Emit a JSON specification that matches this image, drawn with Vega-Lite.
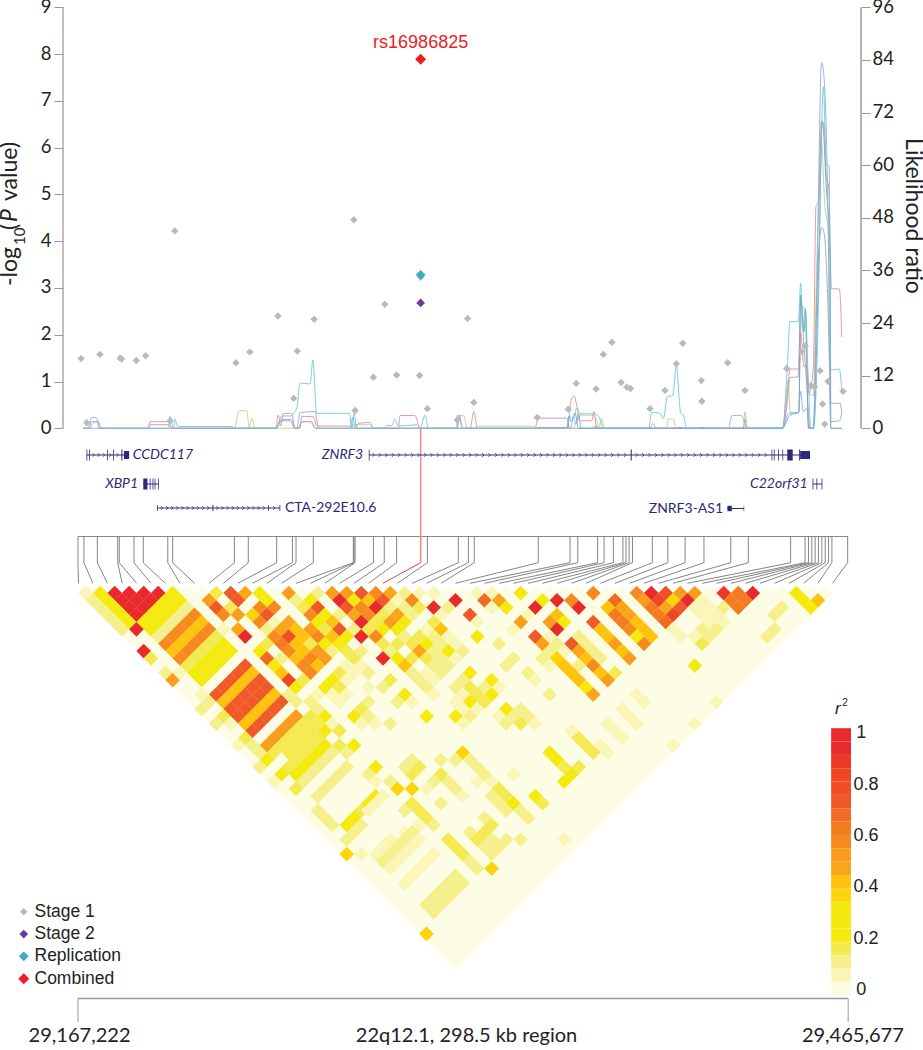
{"$schema":"https://vega.github.io/schema/vega-lite/v6.json","width":923,"height":1050,"padding":0,"autosize":{"type":"none"},"background":"white","config":{"view":{"stroke":null},"font":"Lato"},
"datasets":{
"cells":[
{"m":0.5,"s":1,"r":0.05},{"m":1.5,"s":1,"r":0.3},{"m":2.5,"s":1,"r":0.98},{"m":3.5,"s":1,"r":0.98},{"m":4.5,"s":1,"r":0.98},{"m":5.5,"s":1,"r":0.98},{"m":6.5,"s":1,"r":0.3},{"m":7.5,"s":1,"r":0.02},{"m":8.5,"s":1,"r":0.02},{"m":9.5,"s":1,"r":0.17},{"m":10.5,"s":1,"r":0.72},{"m":11.5,"s":1,"r":0.48},{"m":12.5,"s":1,"r":0.3},{"m":13.5,"s":1,"r":0.03},{"m":14.5,"s":1,"r":0.5},{"m":15.5,"s":1,"r":0.03},{"m":16.5,"s":1,"r":0.12},{"m":17.5,"s":1,"r":0.52},{"m":18.5,"s":1,"r":0.52},{"m":19.5,"s":1,"r":0.72},{"m":20.5,"s":1,"r":0.55},{"m":21.5,"s":1,"r":0.45},{"m":22.5,"s":1,"r":0.12},{"m":23.5,"s":1,"r":0.09},{"m":24.5,"s":1,"r":0.09},{"m":25.5,"s":1,"r":0.02},{"m":26.5,"s":1,"r":0.02},{"m":27.5,"s":1,"r":0.08},{"m":28.5,"s":1,"r":0.08},{"m":29.5,"s":1,"r":0.02},{"m":30.5,"s":1,"r":0.28},{"m":31.5,"s":1,"r":0.02},{"m":32.5,"s":1,"r":0.02},{"m":33.5,"s":1,"r":0.02},{"m":34.5,"s":1,"r":0.02},{"m":35.5,"s":1,"r":0.55},{"m":36.5,"s":1,"r":0.02},{"m":37.5,"s":1,"r":0.02},{"m":38.5,"s":1,"r":0.55},{"m":39.5,"s":1,"r":0.98},{"m":40.5,"s":1,"r":0.78},{"m":41.5,"s":1,"r":0.52},{"m":42.5,"s":1,"r":0.5},{"m":43.5,"s":1,"r":0.02},{"m":44.5,"s":1,"r":0.85},{"m":45.5,"s":1,"r":0.62},{"m":46.5,"s":1,"r":0.98},{"m":47.5,"s":1,"r":0.02},{"m":48.5,"s":1,"r":0.02},{"m":49.5,"s":1,"r":0.3},{"m":50.5,"s":1,"r":0.02},{"m":51.5,"s":1,"r":0.02},
{"m":3,"s":2,"r":0.98},{"m":4,"s":2,"r":0.98},{"m":5,"s":2,"r":0.98},{"m":3.5,"s":3,"r":0.98},{"m":4.5,"s":3,"r":0.98},{"m":4,"s":4,"r":0.98},
{"m":2,"s":2,"r":0.3},{"m":2.5,"s":3,"r":0.3},{"m":3,"s":4,"r":0.3},{"m":3.5,"s":5,"r":0.3},
{"m":1,"s":2,"r":0.12},{"m":1.5,"s":3,"r":0.12},{"m":2,"s":4,"r":0.12},{"m":2.5,"s":5,"r":0.12},{"m":3,"s":6,"r":0.12},
{"m":6,"s":2,"r":0.3},{"m":5.5,"s":3,"r":0.3},{"m":5,"s":4,"r":0.3},{"m":4.5,"s":5,"r":0.3},
{"m":7,"s":2,"r":0.3},{"m":6.5,"s":3,"r":0.3},{"m":6,"s":4,"r":0.3},{"m":5.5,"s":5,"r":0.3},{"m":5,"s":6,"r":0.3},
{"m":7.5,"s":3,"r":0.13},{"m":7,"s":4,"r":0.13},{"m":6.5,"s":5,"r":0.13},{"m":6,"s":6,"r":0.13},{"m":5.5,"s":7,"r":0.13},
{"m":8,"s":4,"r":0.55},{"m":7.5,"s":5,"r":0.55},{"m":7,"s":6,"r":0.55},{"m":6.5,"s":7,"r":0.55},{"m":6,"s":8,"r":0.55},
{"m":8.5,"s":5,"r":0.42},{"m":8,"s":6,"r":0.42},{"m":7.5,"s":7,"r":0.42},{"m":7,"s":8,"r":0.42},{"m":6.5,"s":9,"r":0.42},
{"m":9,"s":6,"r":0.55},{"m":8.5,"s":7,"r":0.55},{"m":8,"s":8,"r":0.55},{"m":7.5,"s":9,"r":0.55},{"m":7,"s":10,"r":0.55},
{"m":9.5,"s":7,"r":0.16},{"m":9,"s":8,"r":0.16},{"m":8.5,"s":9,"r":0.16},{"m":8,"s":10,"r":0.16},{"m":7.5,"s":11,"r":0.16},
{"m":10,"s":8,"r":0.25},{"m":9.5,"s":9,"r":0.25},{"m":9,"s":10,"r":0.25},{"m":8.5,"s":11,"r":0.25},{"m":8,"s":12,"r":0.25},
{"m":10.5,"s":9,"r":0.3},{"m":10,"s":10,"r":0.3},{"m":9.5,"s":11,"r":0.3},{"m":9,"s":12,"r":0.3},{"m":8.5,"s":13,"r":0.3},
{"m":11.5,"s":11,"r":0.72},{"m":11,"s":12,"r":0.72},{"m":10.5,"s":13,"r":0.72},{"m":10,"s":14,"r":0.72},{"m":9.5,"s":15,"r":0.72},
{"m":12,"s":12,"r":0.42},{"m":11.5,"s":13,"r":0.42},{"m":11,"s":14,"r":0.42},{"m":10.5,"s":15,"r":0.42},{"m":10,"s":16,"r":0.42},
{"m":12.5,"s":13,"r":0.72},{"m":12,"s":14,"r":0.72},{"m":11.5,"s":15,"r":0.72},{"m":11,"s":16,"r":0.72},{"m":10.5,"s":17,"r":0.72},
{"m":13,"s":14,"r":0.72},{"m":12.5,"s":15,"r":0.72},{"m":12,"s":16,"r":0.72},{"m":11.5,"s":17,"r":0.72},{"m":11,"s":18,"r":0.72},
{"m":13.5,"s":15,"r":0.42},{"m":13,"s":16,"r":0.42},{"m":12.5,"s":17,"r":0.42},{"m":12,"s":18,"r":0.42},{"m":11.5,"s":19,"r":0.42},
{"m":14,"s":16,"r":0.72},{"m":13.5,"s":17,"r":0.72},{"m":13,"s":18,"r":0.72},{"m":12.5,"s":19,"r":0.72},{"m":12,"s":20,"r":0.72},
{"m":15,"s":18,"r":0.52},{"m":14.5,"s":19,"r":0.52},{"m":14,"s":20,"r":0.52},{"m":13.5,"s":21,"r":0.52},{"m":13,"s":22,"r":0.52},
{"m":15.5,"s":19,"r":0.17},{"m":15,"s":20,"r":0.17},{"m":14.5,"s":21,"r":0.17},{"m":14,"s":22,"r":0.17},{"m":13.5,"s":23,"r":0.17},
{"m":16.5,"s":21,"r":0.19},{"m":16,"s":22,"r":0.19},{"m":15.5,"s":23,"r":0.19},{"m":15,"s":24,"r":0.19},{"m":14.5,"s":25,"r":0.19},
{"m":17,"s":22,"r":0.3},{"m":16.5,"s":23,"r":0.3},{"m":16,"s":24,"r":0.3},{"m":15.5,"s":25,"r":0.3},{"m":15,"s":26,"r":0.3},
{"m":17.5,"s":23,"r":0.13},{"m":17,"s":24,"r":0.13},{"m":16.5,"s":25,"r":0.13},{"m":16,"s":26,"r":0.13},{"m":15.5,"s":27,"r":0.13},
{"m":18.5,"s":25,"r":0.13},{"m":18,"s":26,"r":0.13},{"m":17.5,"s":27,"r":0.13},{"m":17,"s":28,"r":0.13},{"m":16.5,"s":29,"r":0.13},
{"m":4,"s":6,"r":0.98},{"m":4.5,"s":9,"r":0.98},{"m":5,"s":10,"r":0.17},{"m":6,"s":12,"r":0.13},{"m":6.5,"s":13,"r":0.5},{"m":7,"s":12,"r":0.09},{"m":8.5,"s":15,"r":0.08},{"m":8.5,"s":17,"r":0.13},{"m":9,"s":16,"r":0.12},{"m":10,"s":18,"r":0.17},{"m":9.5,"s":19,"r":0.12},{"m":10.5,"s":19,"r":0.09},{"m":11.5,"s":21,"r":0.17},{"m":11,"s":22,"r":0.09},{"m":12,"s":22,"r":0.13},{"m":12.5,"s":23,"r":0.13},{"m":13,"s":24,"r":0.3},{"m":14,"s":26,"r":0.3},{"m":15,"s":28,"r":0.17},{"m":12.5,"s":25,"r":0.12},{"m":13.5,"s":27,"r":0.09},
{"m":9,"s":2,"r":0.5},{"m":11,"s":2,"r":0.72},{"m":13,"s":2,"r":0.28},{"m":15,"s":2,"r":0.12},{"m":16,"s":2,"r":0.3},{"m":18,"s":2,"r":0.95},{"m":19,"s":2,"r":0.3},{"m":20,"s":2,"r":0.42},{"m":21,"s":2,"r":0.72},{"m":22,"s":2,"r":0.08},{"m":23,"s":2,"r":0.55},{"m":26,"s":2,"r":0.98},{"m":28,"s":2,"r":0.68},{"m":29,"s":2,"r":0.45},{"m":32,"s":2,"r":0.3},{"m":33,"s":2,"r":0.98},{"m":34,"s":2,"r":0.55},{"m":37,"s":2,"r":0.68},{"m":39,"s":2,"r":0.5},{"m":40,"s":2,"r":0.8},{"m":41,"s":2,"r":0.35},{"m":42,"s":2,"r":0.95},{"m":43,"s":2,"r":0.09},{"m":45,"s":2,"r":0.62},{"m":46,"s":2,"r":0.62},{"m":50,"s":2,"r":0.3},{"m":51,"s":2,"r":0.42},
{"m":9.5,"s":3,"r":0.72},{"m":10.5,"s":3,"r":0.17},{"m":12.5,"s":3,"r":0.55},{"m":13.5,"s":3,"r":0.55},{"m":15.5,"s":3,"r":0.19},{"m":16.5,"s":3,"r":0.7},{"m":18.5,"s":3,"r":0.7},{"m":19.5,"s":3,"r":0.55},{"m":20.5,"s":3,"r":0.95},{"m":21.5,"s":3,"r":0.13},{"m":22.5,"s":3,"r":0.13},{"m":23.5,"s":3,"r":0.17},{"m":24.5,"s":3,"r":0.98},{"m":25.5,"s":3,"r":0.12},{"m":28.5,"s":3,"r":0.09},{"m":29.5,"s":3,"r":0.3},{"m":31.5,"s":3,"r":0.98},{"m":34.5,"s":3,"r":0.98},{"m":36.5,"s":3,"r":0.42},{"m":37.5,"s":3,"r":0.45},{"m":39.5,"s":3,"r":0.6},{"m":40.5,"s":3,"r":0.45},{"m":41.5,"s":3,"r":0.72},{"m":42.5,"s":3,"r":0.09},{"m":43.5,"s":3,"r":0.09},{"m":44.5,"s":3,"r":0.12},{"m":45.5,"s":3,"r":0.62},{"m":48.5,"s":3,"r":0.12},{"m":50.5,"s":3,"r":0.3},
{"m":10,"s":4,"r":0.55},{"m":11,"s":4,"r":0.52},{"m":12,"s":4,"r":0.38},{"m":13,"s":4,"r":0.7},{"m":16,"s":4,"r":0.55},{"m":17,"s":4,"r":0.3},{"m":18,"s":4,"r":0.12},{"m":19,"s":4,"r":0.45},{"m":20,"s":4,"r":0.55},{"m":21,"s":4,"r":0.17},{"m":22,"s":4,"r":0.45},{"m":23,"s":4,"r":0.13},{"m":25,"s":4,"r":0.09},{"m":27,"s":4,"r":0.7},{"m":31,"s":4,"r":0.09},{"m":33,"s":4,"r":0.42},{"m":37,"s":4,"r":0.6},{"m":38,"s":4,"r":0.45},{"m":40,"s":4,"r":0.6},{"m":41,"s":4,"r":0.8},{"m":43,"s":4,"r":0.09},{"m":44,"s":4,"r":0.09},{"m":48,"s":4,"r":0.12},
{"m":12.5,"s":5,"r":0.55},{"m":13.5,"s":5,"r":0.09},{"m":14.5,"s":5,"r":0.45},{"m":16.5,"s":5,"r":0.3},{"m":17.5,"s":5,"r":0.42},{"m":19.5,"s":5,"r":0.98},{"m":20.5,"s":5,"r":0.17},{"m":21.5,"s":5,"r":0.5},{"m":22.5,"s":5,"r":0.3},{"m":24.5,"s":5,"r":0.17},{"m":27.5,"s":5,"r":0.08},{"m":30.5,"s":5,"r":0.5},{"m":32.5,"s":5,"r":0.52},{"m":33.5,"s":5,"r":0.32},{"m":35.5,"s":5,"r":0.7},{"m":37.5,"s":5,"r":0.62},{"m":38.5,"s":5,"r":0.42},{"m":40.5,"s":5,"r":0.65},{"m":43.5,"s":5,"r":0.09},{"m":44.5,"s":5,"r":0.09},
{"m":10,"s":6,"r":0.09},{"m":11,"s":6,"r":0.48},{"m":13,"s":6,"r":0.13},{"m":14,"s":6,"r":0.45},{"m":15,"s":6,"r":0.4},{"m":16,"s":6,"r":0.5},{"m":17,"s":6,"r":0.17},{"m":18,"s":6,"r":0.72},{"m":19,"s":6,"r":0.13},{"m":20,"s":6,"r":0.17},{"m":21,"s":6,"r":0.3},{"m":22,"s":6,"r":0.3},{"m":24,"s":6,"r":0.09},{"m":25,"s":6,"r":0.42},{"m":30,"s":6,"r":0.09},{"m":33,"s":6,"r":0.98},{"m":36,"s":6,"r":0.42},{"m":38,"s":6,"r":0.55},{"m":39,"s":6,"r":0.42},{"m":41,"s":6,"r":0.09},{"m":43,"s":6,"r":0.12},{"m":44,"s":6,"r":0.12},{"m":48,"s":6,"r":0.12},
{"m":11.5,"s":7,"r":0.98},{"m":13.5,"s":7,"r":0.55},{"m":14.5,"s":7,"r":0.75},{"m":15.5,"s":7,"r":0.42},{"m":16.5,"s":7,"r":0.55},{"m":17.5,"s":7,"r":0.42},{"m":18.5,"s":7,"r":0.3},{"m":19.5,"s":7,"r":0.98},{"m":20.5,"s":7,"r":0.55},{"m":22.5,"s":7,"r":0.12},{"m":23.5,"s":7,"r":0.19},{"m":24.5,"s":7,"r":0.13},{"m":25.5,"s":7,"r":0.09},{"m":27.5,"s":7,"r":0.3},{"m":31.5,"s":7,"r":0.72},{"m":32.5,"s":7,"r":0.09},{"m":34.5,"s":7,"r":0.12},{"m":36.5,"s":7,"r":0.42},{"m":38.5,"s":7,"r":0.3},{"m":39.5,"s":7,"r":0.42},{"m":41.5,"s":7,"r":0.09},{"m":42.5,"s":7,"r":0.09},{"m":43.5,"s":7,"r":0.12},{"m":47.5,"s":7,"r":0.12},
{"m":13,"s":8,"r":0.17},{"m":14,"s":8,"r":0.6},{"m":15,"s":8,"r":0.42},{"m":16,"s":8,"r":0.19},{"m":17,"s":8,"r":0.3},{"m":18,"s":8,"r":0.3},{"m":21,"s":8,"r":0.19},{"m":22,"s":8,"r":0.17},{"m":23,"s":8,"r":0.17},{"m":24,"s":8,"r":0.3},{"m":25,"s":8,"r":0.12},{"m":26,"s":8,"r":0.09},{"m":29,"s":8,"r":0.12},{"m":32,"s":8,"r":0.52},{"m":33,"s":8,"r":0.12},{"m":34,"s":8,"r":0.7},{"m":35,"s":8,"r":0.13},{"m":37,"s":8,"r":0.5},{"m":39,"s":8,"r":0.55},{"m":43,"s":8,"r":0.17},
{"m":12.5,"s":9,"r":0.3},{"m":14.5,"s":9,"r":0.55},{"m":15.5,"s":9,"r":0.42},{"m":16.5,"s":9,"r":0.52},{"m":17.5,"s":9,"r":0.13},{"m":18.5,"s":9,"r":0.17},{"m":19.5,"s":9,"r":0.13},{"m":21.5,"s":9,"r":0.13},{"m":23.5,"s":9,"r":0.45},{"m":24.5,"s":9,"r":0.13},{"m":25.5,"s":9,"r":0.33},{"m":26.5,"s":9,"r":0.12},{"m":32.5,"s":9,"r":0.12},{"m":33.5,"s":9,"r":0.09},{"m":34.5,"s":9,"r":0.45},{"m":35.5,"s":9,"r":0.13},{"m":37.5,"s":9,"r":0.42},
{"m":13,"s":10,"r":0.65},{"m":14,"s":10,"r":0.13},{"m":15,"s":10,"r":0.42},{"m":16,"s":10,"r":0.55},{"m":17,"s":10,"r":0.5},{"m":19,"s":10,"r":0.17},{"m":21,"s":10,"r":0.98},{"m":22,"s":10,"r":0.3},{"m":23,"s":10,"r":0.17},{"m":24,"s":10,"r":0.17},{"m":25,"s":10,"r":0.13},{"m":26,"s":10,"r":0.09},{"m":30,"s":10,"r":0.12},{"m":32,"s":10,"r":0.12},{"m":33,"s":10,"r":0.35},{"m":35,"s":10,"r":0.42},{"m":36,"s":10,"r":0.12},{"m":38,"s":10,"r":0.5},
{"m":13.5,"s":11,"r":0.3},{"m":15.5,"s":11,"r":0.55},{"m":16.5,"s":11,"r":0.4},{"m":18.5,"s":11,"r":0.08},{"m":19.5,"s":11,"r":0.09},{"m":22.5,"s":11,"r":0.42},{"m":24.5,"s":11,"r":0.12},{"m":25.5,"s":11,"r":0.13},{"m":29.5,"s":11,"r":0.13},{"m":32.5,"s":11,"r":0.09},{"m":33.5,"s":11,"r":0.42},{"m":34.5,"s":11,"r":0.12},{"m":35.5,"s":11,"r":0.55},{"m":42.5,"s":11,"r":0.33},
{"m":14,"s":12,"r":0.42},{"m":16,"s":12,"r":0.55},{"m":18,"s":12,"r":0.19},{"m":19,"s":12,"r":0.09},{"m":20,"s":12,"r":0.12},{"m":23,"s":12,"r":0.12},{"m":24,"s":12,"r":0.09},{"m":25,"s":12,"r":0.12},{"m":27,"s":12,"r":0.3},{"m":31,"s":12,"r":0.12},{"m":34,"s":12,"r":0.42},{"m":36,"s":12,"r":0.42},{"m":37,"s":12,"r":0.17},
{"m":14.5,"s":13,"r":0.8},{"m":15.5,"s":13,"r":0.17},{"m":17.5,"s":13,"r":0.28},{"m":18.5,"s":13,"r":0.09},{"m":21.5,"s":13,"r":0.18},{"m":23.5,"s":13,"r":0.12},{"m":24.5,"s":13,"r":0.09},{"m":26.5,"s":13,"r":0.12},{"m":28.5,"s":13,"r":0.3},{"m":31.5,"s":13,"r":0.09},{"m":34.5,"s":13,"r":0.42},{"m":36.5,"s":13,"r":0.5},
{"m":15,"s":14,"r":0.3},{"m":17,"s":14,"r":0.3},{"m":18,"s":14,"r":0.19},{"m":20,"s":14,"r":0.09},{"m":21,"s":14,"r":0.12},{"m":24,"s":14,"r":0.12},{"m":26,"s":14,"r":0.12},{"m":27,"s":14,"r":0.17},{"m":28,"s":14,"r":0.13},{"m":29,"s":14,"r":0.09},{"m":35,"s":14,"r":0.3},
{"m":14.5,"s":15,"r":0.13},{"m":16.5,"s":15,"r":0.09},{"m":17.5,"s":15,"r":0.09},{"m":18.5,"s":15,"r":0.09},{"m":22.5,"s":15,"r":0.3},{"m":24.5,"s":15,"r":0.09},{"m":26.5,"s":15,"r":0.09},{"m":27.5,"s":15,"r":0.19},{"m":28.5,"s":15,"r":0.3},{"m":32.5,"s":15,"r":0.12},{"m":35.5,"s":15,"r":0.45},{"m":38.5,"s":15,"r":0.08},
{"m":15,"s":16,"r":0.13},{"m":16,"s":16,"r":0.12},{"m":18,"s":16,"r":0.08},{"m":20,"s":16,"r":0.12},{"m":22,"s":16,"r":0.12},{"m":23,"s":16,"r":0.09},{"m":26,"s":16,"r":0.09},{"m":27,"s":16,"r":0.3},{"m":28,"s":16,"r":0.17},{"m":39,"s":16,"r":0.08},{"m":44,"s":16,"r":0.09},
{"m":16.5,"s":17,"r":0.12},{"m":19.5,"s":17,"r":0.17},{"m":26.5,"s":17,"r":0.09},{"m":27.5,"s":17,"r":0.09},{"m":29.5,"s":17,"r":0.3},{"m":30.5,"s":17,"r":0.12},{"m":37.5,"s":17,"r":0.08},
{"m":16,"s":18,"r":0.19},{"m":17,"s":18,"r":0.3},{"m":19,"s":18,"r":0.3},{"m":20,"s":18,"r":0.12},{"m":24,"s":18,"r":0.3},{"m":26,"s":18,"r":0.3},{"m":27,"s":18,"r":0.12},{"m":29,"s":18,"r":0.09},{"m":30,"s":18,"r":0.12},{"m":31,"s":18,"r":0.12},{"m":38,"s":18,"r":0.08},
{"m":16.5,"s":19,"r":0.18},{"m":17.5,"s":19,"r":0.09},{"m":19.5,"s":19,"r":0.09},{"m":20.5,"s":19,"r":0.09},{"m":21.5,"s":19,"r":0.12},{"m":26.5,"s":19,"r":0.09},{"m":29.5,"s":19,"r":0.12},{"m":30.5,"s":19,"r":0.17},{"m":31.5,"s":19,"r":0.09},{"m":36.5,"s":19,"r":0.08},{"m":38.5,"s":19,"r":0.08},{"m":42.5,"s":19,"r":0.09},
{"m":16,"s":20,"r":0.18},{"m":17,"s":20,"r":0.3},{"m":18,"s":20,"r":0.19},{"m":34,"s":20,"r":0.08},{"m":37,"s":20,"r":0.08},
{"m":15.5,"s":21,"r":0.18},{"m":34.5,"s":21,"r":0.18},{"m":37.5,"s":21,"r":0.08},
{"m":15,"s":22,"r":0.18},{"m":18,"s":22,"r":0.17},{"m":19,"s":22,"r":0.3},{"m":35,"s":22,"r":0.18},{"m":36,"s":22,"r":0.09},{"m":41,"s":22,"r":0.09},
{"m":14.5,"s":23,"r":0.17},{"m":18.5,"s":23,"r":0.12},{"m":26.5,"s":23,"r":0.35},{"m":32.5,"s":23,"r":0.3},{"m":35.5,"s":23,"r":0.18},{"m":36.5,"s":23,"r":0.09},
{"m":23,"s":24,"r":0.13},{"m":25,"s":24,"r":0.13},{"m":26,"s":24,"r":0.12},{"m":27,"s":24,"r":0.13},{"m":33,"s":24,"r":0.3},
{"m":20.5,"s":25,"r":0.33},{"m":22.5,"s":25,"r":0.12},{"m":23.5,"s":25,"r":0.17},{"m":27.5,"s":25,"r":0.13},{"m":33.5,"s":25,"r":0.19},{"m":34.5,"s":25,"r":0.17},
{"m":20,"s":26,"r":0.12},{"m":23,"s":26,"r":0.19},{"m":25,"s":26,"r":0.17},{"m":28,"s":26,"r":0.12},{"m":30,"s":26,"r":0.09},{"m":34,"s":26,"r":0.3},
{"m":20.5,"s":27,"r":0.09},{"m":21.5,"s":27,"r":0.13},{"m":24.5,"s":27,"r":0.12},{"m":25.5,"s":27,"r":0.12},{"m":27.5,"s":27,"r":0.09},{"m":28.5,"s":27,"r":0.09},{"m":33.5,"s":27,"r":0.3},
{"m":22,"s":28,"r":0.38},{"m":23,"s":28,"r":0.38},{"m":24,"s":28,"r":0.09},{"m":26,"s":28,"r":0.12},{"m":29,"s":28,"r":0.17},
{"m":20.5,"s":29,"r":0.33},{"m":21,"s":29,"r":0.09},{"m":26.5,"s":29,"r":0.09},{"m":28.5,"s":29,"r":0.13},{"m":29.5,"s":29,"r":0.17},{"m":31.5,"s":29,"r":0.3},
{"m":20,"s":30,"r":0.3},{"m":20.5,"s":30,"r":0.09},{"m":23,"s":30,"r":0.19},{"m":25,"s":30,"r":0.12},{"m":29,"s":30,"r":0.13},{"m":30,"s":30,"r":0.3},{"m":32,"s":30,"r":0.19},
{"m":16.5,"s":31,"r":0.12},{"m":19.5,"s":31,"r":0.19},{"m":20,"s":31,"r":0.09},{"m":22.5,"s":31,"r":0.12},{"m":23.5,"s":31,"r":0.17},{"m":29.5,"s":31,"r":0.12},{"m":30.5,"s":31,"r":0.13},
{"m":17,"s":32,"r":0.12},{"m":19,"s":32,"r":0.3},{"m":24,"s":32,"r":0.17},{"m":28,"s":32,"r":0.13},{"m":31,"s":32,"r":0.12},
{"m":17.5,"s":33,"r":0.12},{"m":18.5,"s":33,"r":0.33},{"m":19.5,"s":33,"r":0.12},{"m":23.5,"s":33,"r":0.08},{"m":24.5,"s":33,"r":0.12},{"m":28.5,"s":33,"r":0.19},
{"m":19,"s":34,"r":0.12},{"m":22.5,"s":34,"r":0.08},{"m":23,"s":34,"r":0.13},{"m":27,"s":34,"r":0.13},{"m":28,"s":34,"r":0.17},
{"m":18.5,"s":35,"r":0.12},{"m":21.5,"s":35,"r":0.08},{"m":22.5,"s":35,"r":0.13},{"m":23.5,"s":35,"r":0.09},{"m":25.5,"s":35,"r":0.17},{"m":27.5,"s":35,"r":0.18},{"m":28.5,"s":35,"r":0.13},{"m":29.5,"s":35,"r":0.12},{"m":30.5,"s":35,"r":0.13},{"m":33.5,"s":35,"r":0.08},
{"m":21,"s":36,"r":0.08},{"m":22,"s":36,"r":0.13},{"m":23,"s":36,"r":0.09},{"m":26,"s":36,"r":0.18},{"m":28,"s":36,"r":0.13},{"m":29,"s":36,"r":0.12},
{"m":18.5,"s":37,"r":0.35},{"m":19.5,"s":37,"r":0.09},{"m":20.5,"s":37,"r":0.08},{"m":21.5,"s":37,"r":0.13},{"m":22.5,"s":37,"r":0.09},{"m":24.5,"s":37,"r":0.09},{"m":26.5,"s":37,"r":0.17},{"m":28.5,"s":37,"r":0.13},
{"m":21,"s":38,"r":0.13},{"m":22,"s":38,"r":0.09},{"m":24,"s":38,"r":0.09},{"m":27,"s":38,"r":0.13},
{"m":21.5,"s":39,"r":0.09},{"m":23.5,"s":39,"r":0.09},{"m":27.5,"s":39,"r":0.13},{"m":28.5,"s":39,"r":0.35},
{"m":23,"s":40,"r":0.09},{"m":26,"s":40,"r":0.13},
{"m":22.5,"s":41,"r":0.09},{"m":25.5,"s":41,"r":0.13},{"m":26.5,"s":41,"r":0.13},
{"m":25,"s":42,"r":0.13},{"m":26,"s":42,"r":0.13},{"m":24.5,"s":43,"r":0.13},{"m":25.5,"s":43,"r":0.13},{"m":24,"s":44,"r":0.13},{"m":25,"s":44,"r":0.13},{"m":24.5,"s":45,"r":0.13},
{"m":24,"s":48,"r":0.35}
],
"snps":[
{"x":1.2,"p":1.49,"stage":"Stage 1"},{"x":3.4,"p":0.12,"stage":"Stage 1"},{"x":8.5,"p":1.58,"stage":"Stage 1"},{"x":16.3,"p":1.5,"stage":"Stage 1"},{"x":16.9,"p":1.48,"stage":"Stage 1"},{"x":22.6,"p":1.45,"stage":"Stage 1"},{"x":26.2,"p":1.55,"stage":"Stage 1"},{"x":35.7,"p":0.16,"stage":"Stage 1"},{"x":37.5,"p":4.22,"stage":"Stage 1"},{"x":61.2,"p":1.4,"stage":"Stage 1"},{"x":66.6,"p":1.63,"stage":"Stage 1"},{"x":77.5,"p":2.4,"stage":"Stage 1"},{"x":83.6,"p":0.64,"stage":"Stage 1"},{"x":85,"p":1.65,"stage":"Stage 1"},{"x":91.5,"p":2.33,"stage":"Stage 1"},{"x":106.9,"p":4.46,"stage":"Stage 1"},{"x":107.4,"p":0.38,"stage":"Stage 1"},{"x":114.5,"p":1.09,"stage":"Stage 1"},{"x":118.9,"p":2.65,"stage":"Stage 1"},{"x":123.5,"p":1.14,"stage":"Stage 1"},{"x":132.4,"p":1.13,"stage":"Stage 1"},{"x":132.8,"p":3.23,"stage":"Stage 1"},{"x":135.4,"p":0.42,"stage":"Stage 1"},{"x":147,"p":0.18,"stage":"Stage 1"},{"x":151,"p":2.35,"stage":"Stage 1"},{"x":153.4,"p":0.55,"stage":"Stage 1"},{"x":178,"p":0.23,"stage":"Stage 1"},{"x":190,"p":0.41,"stage":"Stage 1"},{"x":193.1,"p":0.96,"stage":"Stage 1"},{"x":200.8,"p":0.84,"stage":"Stage 1"},{"x":203.6,"p":1.58,"stage":"Stage 1"},{"x":206.9,"p":1.84,"stage":"Stage 1"},{"x":210.5,"p":0.98,"stage":"Stage 1"},{"x":212.7,"p":0.88,"stage":"Stage 1"},{"x":214.1,"p":0.85,"stage":"Stage 1"},{"x":221.7,"p":0.42,"stage":"Stage 1"},{"x":227.5,"p":0.81,"stage":"Stage 1"},{"x":231.9,"p":1.38,"stage":"Stage 1"},{"x":234.4,"p":1.82,"stage":"Stage 1"},{"x":241.6,"p":1.02,"stage":"Stage 1"},{"x":241.8,"p":0.58,"stage":"Stage 1"},{"x":251.8,"p":1.4,"stage":"Stage 1"},{"x":258.5,"p":0.81,"stage":"Stage 1"},{"x":274.7,"p":1.28,"stage":"Stage 1"},{"x":280.4,"p":1.64,"stage":"Stage 1"},{"x":281.9,"p":1.76,"stage":"Stage 1"},{"x":284,"p":0.91,"stage":"Stage 1"},{"x":285.5,"p":0.89,"stage":"Stage 1"},{"x":287.6,"p":1.23,"stage":"Stage 1"},{"x":288.6,"p":0.52,"stage":"Stage 1"},{"x":289.4,"p":0.09,"stage":"Stage 1"},{"x":290.7,"p":1,"stage":"Stage 1"},{"x":296.5,"p":0.79,"stage":"Stage 1"},
{"x":132.8,"p":2.68,"stage":"Stage 2"},{"x":132.8,"p":3.28,"stage":"Replication"},{"x":132.8,"p":7.89,"stage":"Combined"}
],
"lr":[
{"g":"P","x":2.1,"y":0},{"g":"P","x":27.3,"y":0},{"g":"P","x":28,"y":0.8},{"g":"P","x":35,"y":0.8},{"g":"P","x":36.3,"y":0},{"g":"P","x":76.4,"y":0},{"g":"P","x":78.3,"y":1.7},{"g":"P","x":82.2,"y":1.7},{"g":"P","x":84.1,"y":0},{"g":"P","x":84.8,"y":0},{"g":"P","x":86.1,"y":3.6},{"g":"P","x":91.9,"y":3.8},{"g":"P","x":93.2,"y":0},{"g":"P","x":177.1,"y":0},{"g":"P","x":178.4,"y":2.3},{"g":"P","x":189.4,"y":2.3},{"g":"P","x":190.7,"y":0},{"g":"P","x":199,"y":0},{"g":"P","x":200,"y":0.4},{"g":"P","x":203,"y":0},{"g":"P","x":232,"y":0},{"g":"P","x":233,"y":0.2},{"g":"P","x":235,"y":0},{"g":"P","x":273.1,"y":0},{"g":"P","x":274.7,"y":5},{"g":"P","x":276,"y":11.6},{"g":"P","x":279.2,"y":11.7},{"g":"P","x":280.1,"y":30},{"g":"P","x":281.1,"y":21},{"g":"P","x":282.4,"y":10.3},{"g":"P","x":283.7,"y":0},{"g":"P","x":285,"y":0},{"g":"P","x":286.3,"y":29.3},{"g":"P","x":288.2,"y":45.8},{"g":"P","x":289.2,"y":44.4},{"g":"P","x":290.8,"y":25.4},{"g":"P","x":291.7,"y":5.7},{"g":"P","x":295.4,"y":5.7},{"g":"P","x":296,"y":3.4},
{"g":"G","x":60.9,"y":0},{"g":"G","x":62.5,"y":4},{"g":"G","x":65.4,"y":4},{"g":"G","x":66.4,"y":0},{"g":"G","x":67.3,"y":2.3},{"g":"G","x":68.6,"y":0},{"g":"G","x":85.4,"y":0},{"g":"G","x":86.7,"y":1.5},{"g":"G","x":90,"y":1.5},{"g":"G","x":91.9,"y":0},{"g":"G","x":106,"y":0},{"g":"G","x":107,"y":0.8},{"g":"G","x":113.2,"y":0.8},{"g":"G","x":114.5,"y":0},{"g":"G","x":146.5,"y":0},{"g":"G","x":147,"y":2.9},{"g":"G","x":149.4,"y":2.9},{"g":"G","x":150.9,"y":0},{"g":"G","x":153.9,"y":0},{"g":"G","x":155.2,"y":0.5},{"g":"G","x":176.5,"y":0.5},{"g":"G","x":177.8,"y":0},{"g":"G","x":192,"y":0},{"g":"G","x":193.3,"y":1.7},{"g":"G","x":194.6,"y":3},{"g":"G","x":199.1,"y":3},{"g":"G","x":201,"y":1.9},{"g":"G","x":201.7,"y":0},{"g":"G","x":203,"y":2.3},{"g":"G","x":203.9,"y":0},{"g":"G","x":228.2,"y":0},{"g":"G","x":228.8,"y":2.1},{"g":"G","x":230.8,"y":2.1},{"g":"G","x":231.8,"y":0},{"g":"G","x":257.9,"y":0},{"g":"G","x":258.5,"y":3.8},{"g":"G","x":259.4,"y":0},{"g":"G","x":273.1,"y":0},{"g":"G","x":275.3,"y":11},{"g":"G","x":276,"y":3.6},{"g":"G","x":279.2,"y":3.6},{"g":"G","x":280.5,"y":27.7},{"g":"G","x":281.8,"y":27.4},{"g":"G","x":282.4,"y":14},{"g":"G","x":283.7,"y":7.6},{"g":"G","x":285,"y":7.5},{"g":"G","x":286.3,"y":37},{"g":"G","x":288.1,"y":65},{"g":"G","x":289.5,"y":50.5},{"g":"G","x":290.8,"y":45},{"g":"G","x":291.7,"y":0},{"g":"G","x":296,"y":0},
{"g":"R","x":2.1,"y":0},{"g":"R","x":4,"y":0},{"g":"R","x":5.3,"y":1.5},{"g":"R","x":7.9,"y":1.5},{"g":"R","x":9.2,"y":0},{"g":"R","x":27.3,"y":0},{"g":"R","x":27.9,"y":1.5},{"g":"R","x":35,"y":1.5},{"g":"R","x":36.3,"y":0},{"g":"R","x":76.7,"y":0},{"g":"R","x":77.6,"y":3},{"g":"R","x":78.6,"y":0.5},{"g":"R","x":79.6,"y":3.4},{"g":"R","x":82.8,"y":3.4},{"g":"R","x":84.1,"y":0},{"g":"R","x":86.1,"y":0},{"g":"R","x":86.7,"y":2.7},{"g":"R","x":91.2,"y":2.7},{"g":"R","x":92.5,"y":0.5},{"g":"R","x":105.4,"y":0.5},{"g":"R","x":106.7,"y":0},{"g":"R","x":107.5,"y":0},{"g":"R","x":108.7,"y":1.1},{"g":"R","x":113.2,"y":1.3},{"g":"R","x":114.5,"y":0},{"g":"R","x":124.2,"y":0},{"g":"R","x":124.8,"y":2.9},{"g":"R","x":130.6,"y":2.9},{"g":"R","x":132.6,"y":0},{"g":"R","x":147,"y":0},{"g":"R","x":147.8,"y":3},{"g":"R","x":149,"y":0},{"g":"R","x":152,"y":0},{"g":"R","x":153.4,"y":3.8},{"g":"R","x":154.8,"y":0},{"g":"R","x":176.5,"y":0},{"g":"R","x":178.4,"y":0.2},{"g":"R","x":189.4,"y":0.2},{"g":"R","x":189.7,"y":0},{"g":"R","x":191.3,"y":6.8},{"g":"R","x":192.2,"y":7.4},{"g":"R","x":193.5,"y":4.5},{"g":"R","x":194.3,"y":1.7},{"g":"R","x":199.1,"y":1.7},{"g":"R","x":200,"y":3.8},{"g":"R","x":201,"y":0},{"g":"R","x":221.7,"y":0},{"g":"R","x":222.7,"y":1.1},{"g":"R","x":224.3,"y":0},{"g":"R","x":257.9,"y":0},{"g":"R","x":258.5,"y":2.1},{"g":"R","x":259.4,"y":0},{"g":"R","x":273.1,"y":0},{"g":"R","x":274.7,"y":6.5},{"g":"R","x":276,"y":13.5},{"g":"R","x":279.2,"y":13.5},{"g":"R","x":280.1,"y":21.7},{"g":"R","x":281.4,"y":14},{"g":"R","x":282.4,"y":14.4},{"g":"R","x":283.4,"y":8},{"g":"R","x":285,"y":14},{"g":"R","x":286,"y":50.5},{"g":"R","x":287.1,"y":52},{"g":"R","x":288.1,"y":70},{"g":"R","x":289.2,"y":69},{"g":"R","x":290,"y":57.4},{"g":"R","x":291,"y":55},{"g":"R","x":292,"y":31.8},{"g":"R","x":295.1,"y":31.8},{"g":"R","x":296,"y":20.8},
{"g":"D","x":189.8,"y":0},{"g":"D","x":190.2,"y":2.8},{"g":"D","x":191.2,"y":1.5},{"g":"D","x":192.6,"y":3.5},{"g":"D","x":194,"y":0},{"g":"D","x":273,"y":0},{"g":"D","x":276,"y":3},{"g":"D","x":279.4,"y":3.6},{"g":"D","x":280.1,"y":30.4},{"g":"D","x":281.4,"y":22},{"g":"D","x":282,"y":27},{"g":"D","x":283.1,"y":0},{"g":"D","x":285,"y":0},{"g":"D","x":287,"y":35},{"g":"D","x":288.5,"y":70},{"g":"D","x":290,"y":55},{"g":"D","x":291.5,"y":40},{"g":"D","x":291.8,"y":0},{"g":"D","x":296,"y":0},
{"g":"B","x":2.1,"y":0},{"g":"B","x":4,"y":0},{"g":"B","x":5.3,"y":2.5},{"g":"B","x":7.2,"y":2.3},{"g":"B","x":8.5,"y":0},{"g":"B","x":77,"y":0},{"g":"B","x":79,"y":2},{"g":"B","x":82.8,"y":2},{"g":"B","x":84,"y":0},{"g":"B","x":85.4,"y":0},{"g":"B","x":86.7,"y":1.5},{"g":"B","x":90.6,"y":1.5},{"g":"B","x":91.9,"y":0},{"g":"B","x":105.4,"y":0},{"g":"B","x":106.5,"y":2.5},{"g":"B","x":107.5,"y":0},{"g":"B","x":191,"y":0},{"g":"B","x":192,"y":2.5},{"g":"B","x":193,"y":1},{"g":"B","x":194,"y":3.4},{"g":"B","x":195,"y":0},{"g":"B","x":232,"y":0},{"g":"B","x":233,"y":0.2},{"g":"B","x":235,"y":0},{"g":"B","x":240,"y":0},{"g":"B","x":242,"y":0.2},{"g":"B","x":244,"y":0},{"g":"B","x":273.1,"y":0},{"g":"B","x":275.3,"y":3.4},{"g":"B","x":279.2,"y":3.6},{"g":"B","x":280.1,"y":8.4},{"g":"B","x":281.1,"y":3.8},{"g":"B","x":282.4,"y":4.6},{"g":"B","x":283.3,"y":0},{"g":"B","x":285,"y":0},{"g":"B","x":286.3,"y":29.3},{"g":"B","x":288.2,"y":83.4},{"g":"B","x":289.2,"y":79.5},{"g":"B","x":290.8,"y":44.4},{"g":"B","x":291.7,"y":1.5},{"g":"B","x":295.1,"y":1.7},{"g":"B","x":296,"y":3.4},
{"g":"C","x":2.1,"y":0},{"g":"C","x":4.7,"y":0},{"g":"C","x":5.7,"y":1.1},{"g":"C","x":7.2,"y":1.5},{"g":"C","x":8.3,"y":0},{"g":"C","x":35,"y":0},{"g":"C","x":35.7,"y":2.7},{"g":"C","x":37,"y":0},{"g":"C","x":37.6,"y":2.1},{"g":"C","x":38.5,"y":0.5},{"g":"C","x":39.5,"y":0.4},{"g":"C","x":59.6,"y":0.4},{"g":"C","x":60.9,"y":0},{"g":"C","x":77,"y":0},{"g":"C","x":79,"y":2.8},{"g":"C","x":82.8,"y":2.8},{"g":"C","x":83.5,"y":3.4},{"g":"C","x":84.8,"y":4.6},{"g":"C","x":86.1,"y":10.3},{"g":"C","x":90,"y":10.1},{"g":"C","x":91,"y":15.6},{"g":"C","x":92.5,"y":3.4},{"g":"C","x":105.2,"y":3.4},{"g":"C","x":106.1,"y":0},{"g":"C","x":107,"y":3.4},{"g":"C","x":108,"y":0},{"g":"C","x":118.4,"y":0},{"g":"C","x":119.6,"y":0.6},{"g":"C","x":121.6,"y":0.6},{"g":"C","x":122.9,"y":2.1},{"g":"C","x":124.2,"y":0.5},{"g":"C","x":131.3,"y":0.8},{"g":"C","x":132.6,"y":0},{"g":"C","x":134.5,"y":3},{"g":"C","x":135.8,"y":0},{"g":"C","x":146.8,"y":0},{"g":"C","x":147.8,"y":2.7},{"g":"C","x":149,"y":0},{"g":"C","x":189.4,"y":0},{"g":"C","x":190.4,"y":2.7},{"g":"C","x":192,"y":2.3},{"g":"C","x":193.3,"y":4.6},{"g":"C","x":194.6,"y":3.3},{"g":"C","x":199.7,"y":3.3},{"g":"C","x":201.7,"y":2.8},{"g":"C","x":203.6,"y":0},{"g":"C","x":221.1,"y":0},{"g":"C","x":222.4,"y":3.6},{"g":"C","x":225.6,"y":3.4},{"g":"C","x":226.9,"y":2.2},{"g":"C","x":228.4,"y":7.2},{"g":"C","x":230.5,"y":7.4},{"g":"C","x":231.9,"y":14.2},{"g":"C","x":233.6,"y":3.4},{"g":"C","x":234.6,"y":3},{"g":"C","x":235.9,"y":0},{"g":"C","x":252.1,"y":0},{"g":"C","x":253.4,"y":2.9},{"g":"C","x":257.2,"y":2.9},{"g":"C","x":259.2,"y":0},{"g":"C","x":273.1,"y":0},{"g":"C","x":274.7,"y":11.8},{"g":"C","x":276,"y":24.3},{"g":"C","x":279.2,"y":24.3},{"g":"C","x":280.1,"y":33.1},{"g":"C","x":280.9,"y":22.4},{"g":"C","x":281.8,"y":27.4},{"g":"C","x":283.1,"y":10.3},{"g":"C","x":284,"y":0},{"g":"C","x":285,"y":0},{"g":"C","x":287,"y":29.3},{"g":"C","x":287.9,"y":59.7},{"g":"C","x":288.9,"y":77.9},{"g":"C","x":290,"y":60.4},{"g":"C","x":291.1,"y":60},{"g":"C","x":291.7,"y":13.3},{"g":"C","x":295.1,"y":13.5},{"g":"C","x":296,"y":8.7}
],
"links":[{"n":0,"x":0,"b":0.2},{"n":1,"x":2.3,"b":5.8},{"n":2,"x":7.5,"b":11.4},{"n":3,"x":15.4,"b":17.1},{"n":4,"x":16,"b":22.7},{"n":5,"x":21.7,"b":28.3},{"n":6,"x":25.3,"b":33.9},{"n":7,"x":34.8,"b":39.5},{"n":8,"x":36.7,"b":45.2},{"n":9,"x":60.6,"b":50.8},{"n":10,"x":66,"b":56.4},{"n":11,"x":77,"b":62},{"n":12,"x":83.1,"b":67.6},{"n":13,"x":84.5,"b":73.2},{"n":14,"x":91.2,"b":78.9},{"n":15,"x":106.7,"b":84.5},{"n":16,"x":107,"b":90.1},{"n":17,"x":107.4,"b":95.7},{"n":18,"x":114.5,"b":101.4},{"n":19,"x":118.7,"b":107},{"n":20,"x":123.5,"b":112.6},{"n":21,"x":132.8,"b":118.2},{"n":22,"x":135.4,"b":123.8},{"n":23,"x":147.4,"b":129.5},{"n":24,"x":151.3,"b":135.1},{"n":25,"x":153.6,"b":140.7},{"n":26,"x":178.4,"b":146.3},{"n":27,"x":190.7,"b":151.9},{"n":28,"x":193.7,"b":157.6},{"n":29,"x":201.4,"b":163.2},{"n":30,"x":203.9,"b":168.8},{"n":31,"x":207.5,"b":174.4},{"n":32,"x":211.2,"b":180},{"n":33,"x":212.4,"b":185.7},{"n":34,"x":213.6,"b":191.3},{"n":35,"x":214.9,"b":196.9},{"n":36,"x":222.6,"b":202.5},{"n":37,"x":228.6,"b":208.1},{"n":38,"x":235.3,"b":213.8},{"n":39,"x":242.6,"b":219.4},{"n":40,"x":253,"b":225},{"n":41,"x":259.8,"b":230.6},{"n":42,"x":276.2,"b":236.2},{"n":43,"x":281.8,"b":241.9},{"n":44,"x":283.1,"b":247.5},{"n":45,"x":284.4,"b":253.1},{"n":46,"x":285.7,"b":258.7},{"n":47,"x":287,"b":264.3},{"n":48,"x":288.3,"b":270},{"n":49,"x":289.6,"b":275.6},{"n":50,"x":290.9,"b":281.2},{"n":51,"x":292.2,"b":286.8},{"n":52,"x":298.3,"b":292.4}],
"exons":[{"x":3.3,"x2":3.6,"t":44.95,"t2":46.05},{"x":4.3,"x2":4.6,"t":44.95,"t2":46.05},{"x":11.3,"x2":11.6,"t":44.95,"t2":46.05},{"x":13.6,"x2":13.9,"t":44.95,"t2":46.05},{"x":16.8,"x2":17.2,"t":44.95,"t2":46.05},{"x":17.8,"x2":19.8,"t":45.1,"t2":45.9},{"x":25.3,"x2":26.9,"t":47.85,"t2":48.95},{"x":27.8,"x2":28.1,"t":47.85,"t2":48.95},{"x":28.9,"x2":29.2,"t":47.85,"t2":48.95},{"x":29.7,"x2":30,"t":47.85,"t2":48.95},{"x":31,"x2":31.3,"t":47.85,"t2":48.95},{"x":30.6,"x2":30.9,"t":50.5,"t2":51.1},{"x":52.1,"x2":52.5,"t":50.5,"t2":51.1},{"x":73.7,"x2":74,"t":50.5,"t2":51.1},{"x":78.1,"x2":78.4,"t":50.5,"t2":51.1},{"x":112.7,"x2":113,"t":44.95,"t2":46.05},{"x":214.2,"x2":214.6,"t":44.95,"t2":46.05},{"x":268.8,"x2":269.1,"t":44.95,"t2":46.05},{"x":269.7,"x2":270,"t":44.95,"t2":46.05},{"x":271.3,"x2":271.6,"t":44.95,"t2":46.05},{"x":273,"x2":273.3,"t":44.95,"t2":46.05},{"x":274.9,"x2":277,"t":44.95,"t2":46.05},{"x":279.5,"x2":279.9,"t":44.95,"t2":46.05},{"x":279.9,"x2":283.7,"t":45.1,"t2":45.9},{"x":284.7,"x2":285,"t":47.85,"t2":48.95},{"x":286.2,"x2":286.5,"t":47.85,"t2":48.95},{"x":288.2,"x2":288.5,"t":47.85,"t2":48.95},{"x":251.7,"x2":253.4,"t":50.58,"t2":51.12},{"x":258,"x2":258.2,"t":50.58,"t2":51.12}],
"introns":[{"x":3.4,"x2":19.8,"t":45.5},{"x":25.3,"x2":31.1,"t":48.4},{"x":30.7,"x2":78.3,"t":50.8},{"x":112.8,"x2":283.7,"t":45.5},{"x":284.8,"x2":288.3,"t":48.4},{"x":251.7,"x2":258.1,"t":50.85}],
"arrows":[{"x":6,"t":45.5},{"x":8,"t":45.5},{"x":10,"t":45.5},{"x":12.5,"t":45.5},{"x":15.3,"t":45.5},{"x":32.5,"t":50.8},{"x":34.5,"t":50.8},{"x":36.5,"t":50.8},{"x":38.5,"t":50.8},{"x":40.5,"t":50.8},{"x":42.5,"t":50.8},{"x":44.5,"t":50.8},{"x":46.5,"t":50.8},{"x":48.5,"t":50.8},{"x":50.5,"t":50.8},{"x":54,"t":50.8},{"x":56,"t":50.8},{"x":58,"t":50.8},{"x":60,"t":50.8},{"x":62,"t":50.8},{"x":64,"t":50.8},{"x":66,"t":50.8},{"x":68,"t":50.8},{"x":70,"t":50.8},{"x":72,"t":50.8},{"x":76,"t":50.8},{"x":114.5,"t":45.5},{"x":117,"t":45.5},{"x":119.5,"t":45.5},{"x":122,"t":45.5},{"x":124.5,"t":45.5},{"x":127,"t":45.5},{"x":129.5,"t":45.5},{"x":132,"t":45.5},{"x":134.5,"t":45.5},{"x":137,"t":45.5},{"x":139.5,"t":45.5},{"x":142,"t":45.5},{"x":144.5,"t":45.5},{"x":147,"t":45.5},{"x":149.5,"t":45.5},{"x":152,"t":45.5},{"x":154.5,"t":45.5},{"x":157,"t":45.5},{"x":159.5,"t":45.5},{"x":162,"t":45.5},{"x":164.5,"t":45.5},{"x":167,"t":45.5},{"x":169.5,"t":45.5},{"x":172,"t":45.5},{"x":174.5,"t":45.5},{"x":177,"t":45.5},{"x":179.5,"t":45.5},{"x":182,"t":45.5},{"x":184.5,"t":45.5},{"x":187,"t":45.5},{"x":189.5,"t":45.5},{"x":192,"t":45.5},{"x":194.5,"t":45.5},{"x":197,"t":45.5},{"x":199.5,"t":45.5},{"x":202,"t":45.5},{"x":204.5,"t":45.5},{"x":207,"t":45.5},{"x":209.5,"t":45.5},{"x":212,"t":45.5},{"x":216.5,"t":45.5},{"x":219,"t":45.5},{"x":221.5,"t":45.5},{"x":224,"t":45.5},{"x":226.5,"t":45.5},{"x":229,"t":45.5},{"x":231.5,"t":45.5},{"x":234,"t":45.5},{"x":236.5,"t":45.5},{"x":239,"t":45.5},{"x":241.5,"t":45.5},{"x":244,"t":45.5},{"x":246.5,"t":45.5},{"x":249,"t":45.5},{"x":251.5,"t":45.5},{"x":254,"t":45.5},{"x":256.5,"t":45.5},{"x":259,"t":45.5},{"x":261.5,"t":45.5},{"x":264,"t":45.5},{"x":266.5,"t":45.5}],
"bar":[{"lo":-0.02,"hi":0.032,"r":0.025},{"lo":0.032,"hi":0.084,"r":0.075},{"lo":0.084,"hi":0.136,"r":0.125},{"lo":0.136,"hi":0.188,"r":0.175},{"lo":0.188,"hi":0.24,"r":0.225},{"lo":0.24,"hi":0.292,"r":0.275},{"lo":0.292,"hi":0.344,"r":0.325},{"lo":0.344,"hi":0.396,"r":0.375},{"lo":0.396,"hi":0.448,"r":0.425},{"lo":0.448,"hi":0.5,"r":0.475},{"lo":0.5,"hi":0.552,"r":0.525},{"lo":0.552,"hi":0.604,"r":0.575},{"lo":0.604,"hi":0.656,"r":0.625},{"lo":0.656,"hi":0.708,"r":0.675},{"lo":0.708,"hi":0.76,"r":0.725},{"lo":0.76,"hi":0.812,"r":0.775},{"lo":0.812,"hi":0.864,"r":0.825},{"lo":0.864,"hi":0.916,"r":0.875},{"lo":0.916,"hi":0.968,"r":0.925},{"lo":0.968,"hi":1.02,"r":0.975}]
},
"resolve":{"scale":{"x":"independent","y":"independent","color":"independent","size":"independent","shape":"independent"},"axis":{"x":"independent","y":"independent"}},
"layer":[
{"data":{"values":[{"m":0,"a":1,"b":1},{"m":26,"a":1,"b":53},{"m":52,"a":1,"b":1}]},"mark":{"type":"area","color":"#FDFDE6","interpolate":"linear"},"encoding":{"x":{"field":"m","type":"quantitative","axis":null,"scale":{"domain":[-5.41,58.24],"nice":false,"zero":false}},"y":{"field":"a","type":"quantitative","axis":null,"scale":{"domain":[-80.8,64.03],"reverse":true,"nice":false,"zero":false}},"y2":{"field":"b"}}},
{"data":{"name":"cells"},"mark":{"type":"point","shape":"diamond","filled":true,"size":216,"opacity":1,"strokeWidth":0},"encoding":{"x":{"field":"m","type":"quantitative","axis":null,"scale":{"domain":[-5.41,58.24],"nice":false,"zero":false}},"y":{"field":"s","type":"quantitative","axis":null,"scale":{"domain":[-80.8,64.03],"reverse":true,"nice":false,"zero":false}},"color":{"field":"r","type":"quantitative","legend":null,"scale":{"type":"threshold","domain":[0.05,0.1,0.15,0.2,0.25,0.3,0.35,0.4,0.45,0.5,0.55,0.6,0.65,0.7,0.75,0.8,0.85,0.9,0.95],"range":["#FDFDE6","#F9F6B8","#F5F08C","#F2EA50","#F4EA0E","#F4EA0E","#F4EA0E","#FBD40A","#FFC20E","#F9A61A","#F99D1C","#F68A1F","#F47B20","#F26A24","#F05A28","#F04E23","#EF4623","#EB3A27","#E92A2C","#E92A2C"]}}}},
{"data":{"name":"bar"},"mark":{"type":"rect"},"encoding":{"x":{"datum":291.9,"type":"quantitative","axis":null,"scale":{"domain":[-30.23,327.5],"nice":false,"zero":false}},"x2":{"datum":299.6},"y":{"field":"lo","type":"quantitative","axis":null,"scale":{"domain":[-0.2337,3.857],"nice":false,"zero":false}},"y2":{"field":"hi"},"color":{"field":"r","type":"quantitative","legend":null,"scale":{"type":"threshold","domain":[0.05,0.1,0.15,0.2,0.25,0.3,0.35,0.4,0.45,0.5,0.55,0.6,0.65,0.7,0.75,0.8,0.85,0.9,0.95],"range":["#FDFDE6","#F9F6B8","#F5F08C","#F2EA50","#F4EA0E","#F4EA0E","#F4EA0E","#FBD40A","#FFC20E","#F9A61A","#F99D1C","#F68A1F","#F47B20","#F26A24","#F05A28","#F04E23","#EF4623","#EB3A27","#E92A2C","#E92A2C"]}}}},
{"data":{"values":[{"r":1,"x":303.6,"label":"1"},{"r":0.8,"x":305.4,"label":"0.8"},{"r":0.6,"x":305.4,"label":"0.6"},{"r":0.4,"x":305.4,"label":"0.4"},{"r":0.2,"x":305.4,"label":"0.2"},{"r":0,"x":303.6,"label":"0"}]},"mark":{"type":"text","font":"Liberation Sans","fontSize":18,"align":"center","baseline":"middle","color":"#222"},"encoding":{"x":{"field":"x","type":"quantitative","axis":null,"scale":{"domain":[-30.23,327.5],"nice":false,"zero":false}},"y":{"field":"r","type":"quantitative","axis":null,"scale":{"domain":[-0.2337,3.857],"nice":false,"zero":false}},"text":{"field":"label"}}},
{"data":{"values":[{"x":0,"x2":298.5}]},"mark":{"type":"rule","color":"#8a8a8a","strokeWidth":1.2},"encoding":{"x":{"field":"x","type":"quantitative","axis":null,"scale":{"domain":[-30.23,327.5],"nice":false,"zero":false}},"x2":{"field":"x2"},"y":{"datum":53.65,"type":"quantitative","axis":null,"scale":{"domain":[0,105],"reverse":true,"nice":false,"zero":false}}}},
{"data":{"name":"links"},"mark":{"type":"rule","strokeWidth":0.9},"encoding":{"x":{"field":"x","type":"quantitative","axis":null,"scale":{"domain":[-30.23,327.5],"nice":false,"zero":false}},"y":{"datum":53.65,"type":"quantitative","axis":null,"scale":{"domain":[0,105],"reverse":true,"nice":false,"zero":false}},"y2":{"datum":56.27},"color":{"value":"#777777"}}},
{"data":{"name":"links"},"mark":{"type":"rule","strokeWidth":0.9},"encoding":{"x":{"field":"x","type":"quantitative","axis":null,"scale":{"domain":[-30.23,327.5],"nice":false,"zero":false}},"x2":{"field":"b"},"y":{"datum":56.27,"type":"quantitative","axis":null,"scale":{"domain":[0,105],"reverse":true,"nice":false,"zero":false}},"y2":{"datum":58.33},"color":{"condition":{"test":"datum.n===21","value":"#E8262A"},"value":"#777777"}}},
{"data":{"values":[{"x":132.8}]},"mark":{"type":"rule","color":"#F08A8A","strokeWidth":1.5},"encoding":{"x":{"field":"x","type":"quantitative","axis":null,"scale":{"domain":[-30.23,327.5],"nice":false,"zero":false}},"y":{"datum":42.9,"type":"quantitative","axis":null,"scale":{"domain":[0,105],"reverse":true,"nice":false,"zero":false}},"y2":{"datum":56.27}}},
{"data":{"values":[{"x":0},{"x":298.5}]},"mark":{"type":"rule","color":"#999999","strokeWidth":1},"encoding":{"x":{"field":"x","type":"quantitative","axis":null,"scale":{"domain":[-30.23,327.5],"nice":false,"zero":false}},"y":{"datum":99.85,"type":"quantitative","axis":null,"scale":{"domain":[0,105],"reverse":true,"nice":false,"zero":false}},"y2":{"datum":102.2}}},
{"data":{"values":[{"x":0,"x2":298.5}]},"mark":{"type":"rule","color":"#999999","strokeWidth":1.5},"encoding":{"x":{"field":"x","type":"quantitative","axis":null,"scale":{"domain":[-30.23,327.5],"nice":false,"zero":false}},"x2":{"field":"x2"},"y":{"datum":99.85,"type":"quantitative","axis":null,"scale":{"domain":[0,105],"reverse":true,"nice":false,"zero":false}}}},
{"data":{"name":"introns"},"mark":{"type":"rule","color":"#2B2A7A","strokeWidth":1},"encoding":{"x":{"field":"x","type":"quantitative","axis":null,"scale":{"domain":[-30.23,327.5],"nice":false,"zero":false}},"x2":{"field":"x2"},"y":{"field":"t","type":"quantitative","axis":null,"scale":{"domain":[0,105],"reverse":true,"nice":false,"zero":false}}}},
{"data":{"name":"arrows"},"mark":{"type":"point","shape":"M-0.5,-1L0.5,0L-0.5,1","filled":false,"size":14,"color":"#2B2A7A","strokeWidth":0.8,"opacity":1},"encoding":{"x":{"field":"x","type":"quantitative","axis":null,"scale":{"domain":[-30.23,327.5],"nice":false,"zero":false}},"y":{"field":"t","type":"quantitative","axis":null,"scale":{"domain":[0,105],"reverse":true,"nice":false,"zero":false}}}},
{"data":{"name":"exons"},"mark":{"type":"rect","color":"#2B2A7A"},"encoding":{"x":{"field":"x","type":"quantitative","axis":null,"scale":{"domain":[-30.23,327.5],"nice":false,"zero":false}},"x2":{"field":"x2"},"y":{"field":"t","type":"quantitative","axis":null,"scale":{"domain":[0,105],"reverse":true,"nice":false,"zero":false}},"y2":{"field":"t2"}}},
{"data":{"values":[{"x":21.2,"t":45.5,"label":"CCDC117"}]},"mark":{"type":"text","font":"Lato","fontStyle":"italic","fontSize":14,"align":"left","baseline":"middle","color":"#2B2A7A"},"encoding":{"x":{"field":"x","type":"quantitative","axis":null,"scale":{"domain":[-30.23,327.5],"nice":false,"zero":false}},"y":{"field":"t","type":"quantitative","axis":null,"scale":{"domain":[0,105],"reverse":true,"nice":false,"zero":false}},"text":{"field":"label"}}},
{"data":{"values":[{"x":80.2,"t":50.8,"label":"CTA-292E10.6"}]},"mark":{"type":"text","font":"Lato","fontSize":14,"align":"left","baseline":"middle","color":"#2B2A7A"},"encoding":{"x":{"field":"x","type":"quantitative","axis":null,"scale":{"domain":[-30.23,327.5],"nice":false,"zero":false}},"y":{"field":"t","type":"quantitative","axis":null,"scale":{"domain":[0,105],"reverse":true,"nice":false,"zero":false}},"text":{"field":"label"}}},
{"data":{"values":[{"x":110.5,"t":45.5,"label":"ZNRF3"},{"x":23.3,"t":48.4,"label":"XBP1"},{"x":282.8,"t":48.4,"label":"C22orf31"}]},"mark":{"type":"text","font":"Lato","fontStyle":"italic","fontSize":14,"align":"right","baseline":"middle","color":"#2B2A7A"},"encoding":{"x":{"field":"x","type":"quantitative","axis":null,"scale":{"domain":[-30.23,327.5],"nice":false,"zero":false}},"y":{"field":"t","type":"quantitative","axis":null,"scale":{"domain":[0,105],"reverse":true,"nice":false,"zero":false}},"text":{"field":"label"}}},
{"data":{"values":[{"x":250,"t":50.85,"label":"ZNRF3-AS1"}]},"mark":{"type":"text","font":"Lato","fontSize":14,"align":"right","baseline":"middle","color":"#2B2A7A"},"encoding":{"x":{"field":"x","type":"quantitative","axis":null,"scale":{"domain":[-30.23,327.5],"nice":false,"zero":false}},"y":{"field":"t","type":"quantitative","axis":null,"scale":{"domain":[0,105],"reverse":true,"nice":false,"zero":false}},"text":{"field":"label"}}},
{"data":{"values":[{"x":0.6,"t":103.6,"label":"29,167,222"},{"x":150.6,"t":103.6,"label":"22q12.1, 298.5 kb region"},{"x":300.3,"t":103.6,"label":"29,465,677"}]},"mark":{"type":"text","font":"Lato","fontSize":20,"align":"center","baseline":"middle","color":"#222"},"encoding":{"x":{"field":"x","type":"quantitative","axis":null,"scale":{"domain":[-30.23,327.5],"nice":false,"zero":false}},"y":{"field":"t","type":"quantitative","axis":null,"scale":{"domain":[0,105],"reverse":true,"nice":false,"zero":false}},"text":{"field":"label"}}},
{"data":{"values":[{"x":132.8,"t":4.3,"label":"rs16986825"}]},"mark":{"type":"text","font":"Liberation Sans","fontSize":18,"align":"center","baseline":"middle","color":"#EE1C25"},"encoding":{"x":{"field":"x","type":"quantitative","axis":null,"scale":{"domain":[-30.23,327.5],"nice":false,"zero":false}},"y":{"field":"t","type":"quantitative","axis":null,"scale":{"domain":[0,105],"reverse":true,"nice":false,"zero":false}},"text":{"field":"label"}}},
{"data":{"values":[{"x":293.4,"t":70.9,"label":"r"}]},"mark":{"type":"text","font":"Liberation Sans","fontStyle":"italic","fontSize":17,"align":"left","baseline":"middle","color":"#222"},"encoding":{"x":{"field":"x","type":"quantitative","axis":null,"scale":{"domain":[-30.23,327.5],"nice":false,"zero":false}},"y":{"field":"t","type":"quantitative","axis":null,"scale":{"domain":[0,105],"reverse":true,"nice":false,"zero":false}},"text":{"field":"label"}}},
{"data":{"values":[{"x":296.2,"t":70.3,"label":"2"}]},"mark":{"type":"text","font":"Liberation Sans","fontSize":10,"align":"left","baseline":"middle","color":"#222"},"encoding":{"x":{"field":"x","type":"quantitative","axis":null,"scale":{"domain":[-30.23,327.5],"nice":false,"zero":false}},"y":{"field":"t","type":"quantitative","axis":null,"scale":{"domain":[0,105],"reverse":true,"nice":false,"zero":false}},"text":{"field":"label"}}},
{"data":{"values":[{"x":-23.6,"t":28.6,"label":"-log"},{"x":-23.6,"t":23,"label":"("},{"x":-23.6,"t":20.1,"label":"value)"}]},"mark":{"type":"text","font":"Lato","fontSize":23,"angle":270,"align":"left","baseline":"alphabetic","color":"#222"},"encoding":{"x":{"field":"x","type":"quantitative","axis":null,"scale":{"domain":[-30.23,327.5],"nice":false,"zero":false}},"y":{"field":"t","type":"quantitative","axis":null,"scale":{"domain":[0,105],"reverse":true,"nice":false,"zero":false}},"text":{"field":"label"}}},
{"data":{"values":[{"x":-20.5,"t":24.5,"label":"10"}]},"mark":{"type":"text","font":"Lato","fontSize":15,"angle":270,"align":"left","baseline":"alphabetic","color":"#222"},"encoding":{"x":{"field":"x","type":"quantitative","axis":null,"scale":{"domain":[-30.23,327.5],"nice":false,"zero":false}},"y":{"field":"t","type":"quantitative","axis":null,"scale":{"domain":[0,105],"reverse":true,"nice":false,"zero":false}},"text":{"field":"label"}}},
{"data":{"values":[{"x":-23.6,"t":22.2,"label":"P"}]},"mark":{"type":"text","font":"Lato","fontStyle":"italic","fontSize":23,"angle":270,"align":"left","baseline":"alphabetic","color":"#222"},"encoding":{"x":{"field":"x","type":"quantitative","axis":null,"scale":{"domain":[-30.23,327.5],"nice":false,"zero":false}},"y":{"field":"t","type":"quantitative","axis":null,"scale":{"domain":[0,105],"reverse":true,"nice":false,"zero":false}},"text":{"field":"label"}}},
{"data":{"values":[{"x":320.9,"t":21.6,"label":"Likelihood ratio"}]},"mark":{"type":"text","font":"Lato","fontSize":23,"angle":90,"align":"center","baseline":"alphabetic","color":"#222"},"encoding":{"x":{"field":"x","type":"quantitative","axis":null,"scale":{"domain":[-30.23,327.5],"nice":false,"zero":false}},"y":{"field":"t","type":"quantitative","axis":null,"scale":{"domain":[0,105],"reverse":true,"nice":false,"zero":false}},"text":{"field":"label"}}},
{"data":{"name":"lr"},"mark":{"type":"line","interpolate":"monotone","strokeWidth":1,"opacity":0.85},"encoding":{"x":{"field":"x","type":"quantitative","axis":null,"scale":{"domain":[-30.23,327.5],"nice":false,"zero":false}},"y":{"field":"y","type":"quantitative","title":null,"scale":{"domain":[-141.8,97.67],"nice":false,"zero":false},"axis":{"orient":"right","offset":-62,"values":[0,12,24,36,48,60,72,84,96],"domain":false,"grid":false,"tickColor":"#999999","tickSize":9,"labelFont":"Lato","labelFontSize":18.5,"labelColor":"#222222","labelPadding":2,"labelOffset":-1}},"color":{"field":"g","type":"nominal","legend":null,"scale":{"domain":["P","G","R","D","B","C"],"range":["#AD93CC","#B5D07A","#E58A8A","#6A9BCB","#86A8DC","#69C5DA"]}},"order":{"field":"x","type":"quantitative"}}},
{"data":{"values":[{"a":0,"b":96}]},"mark":{"type":"rule","color":"#AAAAAA","strokeWidth":1.8},"encoding":{"x":{"datum":303.5,"type":"quantitative","axis":null,"scale":{"domain":[-30.23,327.5],"nice":false,"zero":false}},"y":{"field":"a","type":"quantitative","axis":null,"scale":{"domain":[-141.8,97.67],"nice":false,"zero":false}},"y2":{"field":"b"}}},
{"data":{"values":[{"a":0,"b":9}]},"mark":{"type":"rule","color":"#AAAAAA","strokeWidth":1.5},"encoding":{"x":{"datum":-5.8,"type":"quantitative","axis":null,"scale":{"domain":[-30.23,327.5],"nice":false,"zero":false}},"y":{"field":"a","type":"quantitative","axis":null,"scale":{"domain":[-13.29,9.156],"nice":false,"zero":false}},"y2":{"field":"b"}}},
{"data":{"name":"snps"},"mark":{"type":"point","shape":"diamond","filled":true,"opacity":1,"strokeWidth":0},"encoding":{"x":{"field":"x","type":"quantitative","axis":null,"scale":{"domain":[-30.23,327.5],"nice":false,"zero":false}},"y":{"field":"p","type":"quantitative","title":null,"scale":{"domain":[-13.29,9.156],"nice":false,"zero":false},"axis":{"orient":"left","offset":-63,"values":[0,1,2,3,4,5,6,7,8,9],"domain":false,"grid":false,"tickColor":"#999999","tickSize":9,"labelFont":"Lato","labelFontSize":18.5,"labelColor":"#222222","labelPadding":3,"labelOffset":-1}},"color":{"field":"stage","type":"nominal","scale":{"domain":["Stage 1","Stage 2","Replication","Combined"],"range":["#B9B9B9","#6B3A9B","#3FA9C8","#EE1C25"]},"legend":{"title":null,"orient":"none","legendX":15,"legendY":903,"symbolType":"diamond","labelFont":"Liberation Sans","labelFontSize":17.5,"labelColor":"#222222","rowPadding":3.3,"labelOffset":2,"padding":0,"encode":{"symbols":{"update":{"size":{"value":150},"strokeWidth":{"value":0}}}}}},"size":{"field":"stage","type":"nominal","legend":null,"scale":{"domain":["Stage 1","Stage 2","Replication","Combined"],"range":[55,120,140,110]}}}}
]}
